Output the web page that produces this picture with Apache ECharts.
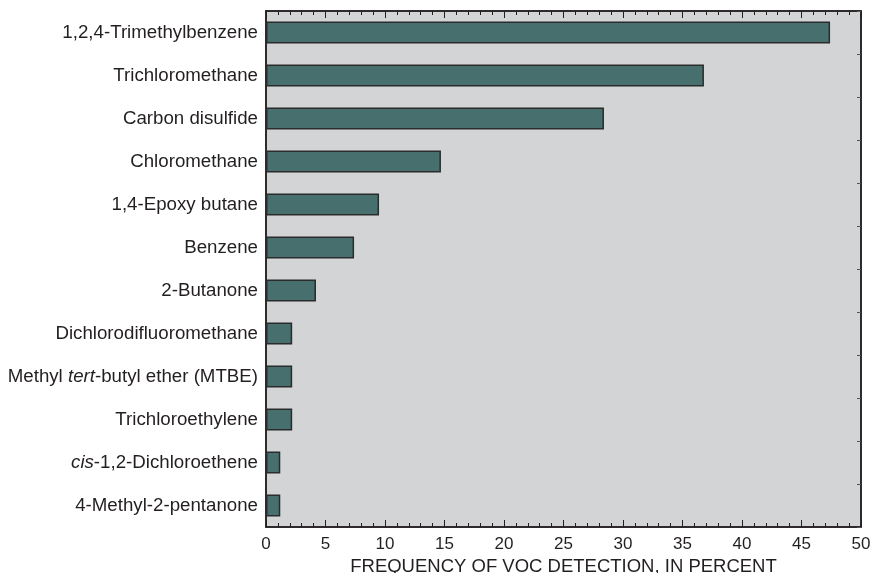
<!DOCTYPE html>
<html>
<head>
<meta charset="utf-8">
<script src="https://cdn.jsdelivr.net/npm/echarts@6/dist/echarts.min.js"></script>
<style>html,body{margin:0;padding:0;background:#fff}#c{width:871px;height:573px}</style>
</head>
<body>
<div id="c"></div>
<script>
const categories = [
  "1,2,4-Trimethylbenzene",
  "Trichloromethane",
  "Carbon disulfide",
  "Chloromethane",
  "1,4-Epoxy butane",
  "Benzene",
  "2-Butanone",
  "Dichlorodifluoromethane",
  "Methyl tert-butyl ether (MTBE)",
  "Trichloroethylene",
  "cis-1,2-Dichloroethene",
  "4-Methyl-2-pentanone"
];
const frequency = [47.4, 36.8, 28.4, 14.7, 9.5, 7.4, 4.2, 2.2, 2.2, 2.2, 1.2, 1.2];
const italicWords = ["tert", "cis"];
const xTitle = "FREQUENCY OF VOC DETECTION, IN PERCENT";

const FONT = "'Liberation Sans', Arial, sans-serif";
const textColor = "#231f20";
const LBL = 18.7;

function fmtLabel(v) {
  let out = v;
  for (const w of italicWords) {
    const re = new RegExp("\\b" + w + "\\b");
    if (re.test(out)) {
      const parts = out.split(re);
      return parts.map(p => p ? "{n|" + p + "}" : "").join("{i|" + w + "}");
    }
  }
  return "{n|" + out + "}";
}

const chart = echarts.init(document.getElementById('c'), null, {renderer: 'canvas'});
const xCommon = {
  type: 'value', min: 0, max: 50, interval: 5,
  axisLine: {show: true, lineStyle: {color: '#231f20', width: 1.5}},
  axisTick: {show: true, inside: true, length: 7, lineStyle: {color: '#231f20', width: 1}},
  minorTick: {show: true, splitNumber: 5, length: 4, lineStyle: {color: '#231f20', width: 1}},
  splitLine: {show: false}
};
chart.setOption({
  animation: false,
  grid: {left: 266, right: 10, top: 11, bottom: 46, containLabel: false, outerBoundsMode: 'none',
         show: true, backgroundColor: '#d3d4d6', borderColor: '#231f20', borderWidth: 1.5},
  xAxis: [
    Object.assign({}, xCommon, {
      position: 'bottom',
      axisLabel: {show: true, color: textColor, fontFamily: FONT, fontSize: 17, margin: 9},
      name: xTitle, nameLocation: 'middle', nameGap: 25,
      nameTextStyle: {color: textColor, fontFamily: FONT, fontSize: 18.5, verticalAlign: 'top'}
    }),
    Object.assign({}, xCommon, {position: 'top', axisLabel: {show: false}})
  ],
  yAxis: [
    {
      type: 'category', data: categories, inverse: true, position: 'left',
      axisLine: {show: true, lineStyle: {color: '#231f20', width: 1.5}},
      axisTick: {show: false, length: 0},
      axisLabel: {
        margin: 8, color: textColor, fontFamily: FONT, fontSize: LBL,
        formatter: fmtLabel,
        rich: {
          n: {color: textColor, fontFamily: FONT, fontSize: LBL},
          i: {color: textColor, fontFamily: FONT, fontSize: LBL, fontStyle: 'italic'}
        }
      }
    },
    {
      type: 'category', data: categories, inverse: true, position: 'right', offset: 0,
      axisLine: {show: true, onZero: false, lineStyle: {color: '#231f20', width: 1.5}},
      axisTick: {show: true, inside: true, length: 4, lineStyle: {color: '#555', width: 1}},
      axisLabel: {show: false}
    }
  ],
  series: [{
    type: 'bar', data: frequency, xAxisIndex: 0, yAxisIndex: 0,
    barWidth: 22,
    itemStyle: {color: '#476f6d', borderColor: '#2b2b2b', borderWidth: 1.5}
  }]
});
</script>
</body>
</html>
